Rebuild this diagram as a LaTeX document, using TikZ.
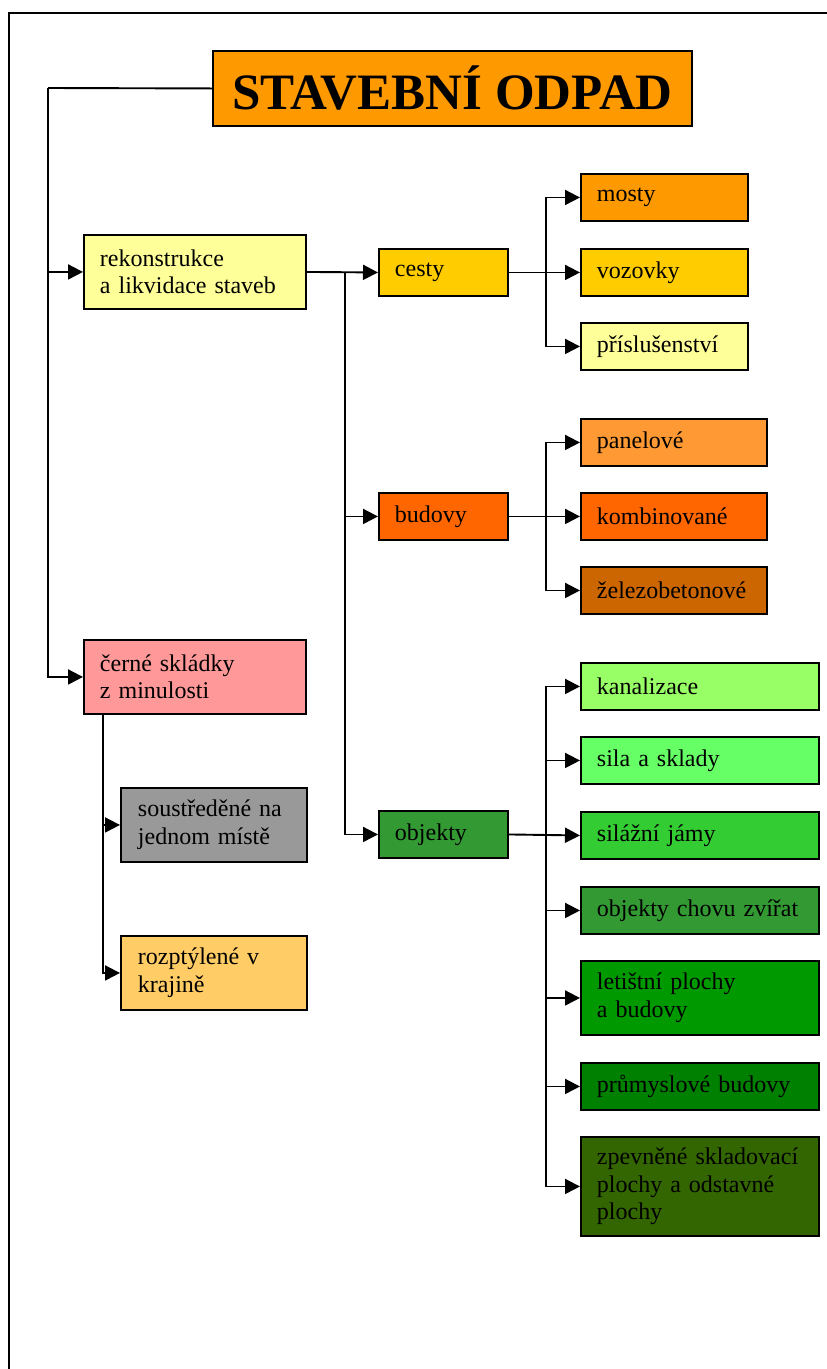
\documentclass[tikz,border=0pt]{standalone}
\usepackage{fontspec}
\setmainfont{Liberation Serif}
\usetikzlibrary{arrows.meta}
\definecolor{titleorange}{HTML}{FF9900}
\definecolor{paleyellow}{HTML}{FFFF99}
\definecolor{gold}{HTML}{FFCC00}
\definecolor{lightorange}{HTML}{FF9933}
\definecolor{deeporange}{HTML}{FF6600}
\definecolor{rust}{HTML}{CC6600}
\definecolor{rose}{HTML}{FF9999}
\definecolor{stone}{HTML}{999999}
\definecolor{sand}{HTML}{FFCC66}
\definecolor{lime1}{HTML}{99FF66}
\definecolor{lime2}{HTML}{66FF66}
\definecolor{green1}{HTML}{33CC33}
\definecolor{green2}{HTML}{339933}
\definecolor{green3}{HTML}{009900}
\definecolor{green4}{HTML}{008000}
\definecolor{olive1}{HTML}{336600}
\begin{document}
\begin{tikzpicture}[x=1pt,y=-1pt,
  box/.style={draw,line width=1.9pt,anchor=north west,align=left,inner xsep=16pt,inner ysep=0pt,
    font=\fontsize{24}{27.6}\selectfont},
  wide/.style={box,text width=190pt},
  sub/.style={box,text width=152pt,inner xsep=17pt},
  mid/.style={box,text width=97pt},
  leaf/.style={box,text width=135pt},
  leafb/.style={box,text width=154pt},
  leafc/.style={box,text width=206pt},
  one/.style={minimum height=47pt},
  two/.style={minimum height=74pt},
  three/.style={minimum height=99pt},
  link/.style={line width=1.9pt},
  arr/.style={link,-{Triangle[length=15pt,width=15pt]}}]
  \useasboundingbox (0,0) rectangle (827,1369);
  % frame
  \draw[line width=1.9pt] (9,1370) -- (9,13) -- (828,13);

  % top
  \node[draw,line width=1.9pt,fill=titleorange,anchor=north west,minimum width=479pt,minimum height=75pt,
    font=\fontsize{51}{58}\selectfont\bfseries,at={(212,50)}] (title) {STAVEBNÍ ODPAD};

  % left
  %boxes
  \node[wide,two,fill=paleyellow,at={(83,234)}] (rek) {rekonstrukce\\a likvidace staveb};
  \node[wide,two,fill=rose,at={(83,639)}] (cerne) {černé skládky\\z minulosti};
  \node[sub,two,fill=stone,at={(120,787)}] (sous) {soustředěné na\\jednom místě};
  \node[sub,two,fill=sand,at={(120,935)}] (rozp) {rozptýlené v\\krajině};
  %links
  \coordinate (jtop) at (48,88);
  \draw[link] (title.west) -- (jtop);
  \draw[arr] (jtop) |- (rek.west);
  \draw[arr] (jtop) |- (cerne.west);
  \path (cerne.south west) ++(20,0) coordinate (jcer);
  \draw[arr] (jcer) |- (sous.west);
  \draw[arr] (jcer) |- (rozp.west);

  % middle
  %boxes
  \node[mid,one,fill=gold,at={(378,248)}] (cesty) {cesty};
  \node[mid,one,fill=deeporange,at={(378,492)}] (budovy) {budovy};
  \node[mid,one,fill=green2,at={(378,810)}] (objekty) {objekty};
  %links
  \path (rek.east) ++(38,0) coordinate (jrek);
  \draw[arr] (rek.east) -- (cesty.west);
  \draw[arr] (jrek) |- (budovy.west);
  \draw[arr] (jrek) |- (objekty.west);

  % right: cesty
  \node[leaf,one,fill=titleorange,at={(580,173)}] (mosty) {mosty};
  \node[leaf,one,fill=gold,at={(580,248)}] (vozovky) {vozovky};
  \node[leaf,one,fill=paleyellow,at={(580,322)}] (prisl) {příslušenství};
  \path (cesty.east) ++(37,0) coordinate (jces);
  \draw[arr] (cesty.east) -- (vozovky.west);
  \draw[arr] (jces) |- (mosty.west);
  \draw[arr] (jces) |- (prisl.west);

  % right: budovy
  \node[leafb,one,fill=lightorange,at={(580,418)}] (panel) {panelové};
  \node[leafb,one,fill=deeporange,at={(580,492)}] (komb) {kombinované};
  \node[leafb,one,fill=rust,at={(580,566)}] (zelezo) {železobetonové};
  \path (budovy.east) ++(37,0) coordinate (jbud);
  \draw[arr] (budovy.east) -- (komb.west);
  \draw[arr] (jbud) |- (panel.west);
  \draw[arr] (jbud) |- (zelezo.west);

  % right: objekty
  \node[leafc,one,fill=lime1,at={(580,662)}] (kanal) {kanalizace};
  \node[leafc,one,fill=lime2,at={(580,736)}] (sila) {sila a sklady};
  \node[leafc,one,fill=green1,at={(580,811)}] (jamy) {silážní jámy};
  \node[leafc,one,fill=green2,at={(580,886)}] (chov) {objekty chovu zvířat};
  \node[leafc,two,fill=green3,at={(580,960)}] (letiste) {letištní plochy\\a budovy};
  \node[leafc,one,fill=green4,at={(580,1062)}] (prum) {průmyslové budovy};
  \node[leafc,three,fill=olive1,at={(580,1136)}] (zpev) {zpevněné skladovací\\plochy a odstavné\\plochy};
  \path (objekty.east) ++(37,0) coordinate (jobj);
  \draw[arr] (objekty.east) -- (jamy.west);
  \foreach \leafname in {kanal,sila,chov,letiste,prum,zpev}
    \draw[arr] (jobj) |- (\leafname.west);
\end{tikzpicture}
\end{document}
